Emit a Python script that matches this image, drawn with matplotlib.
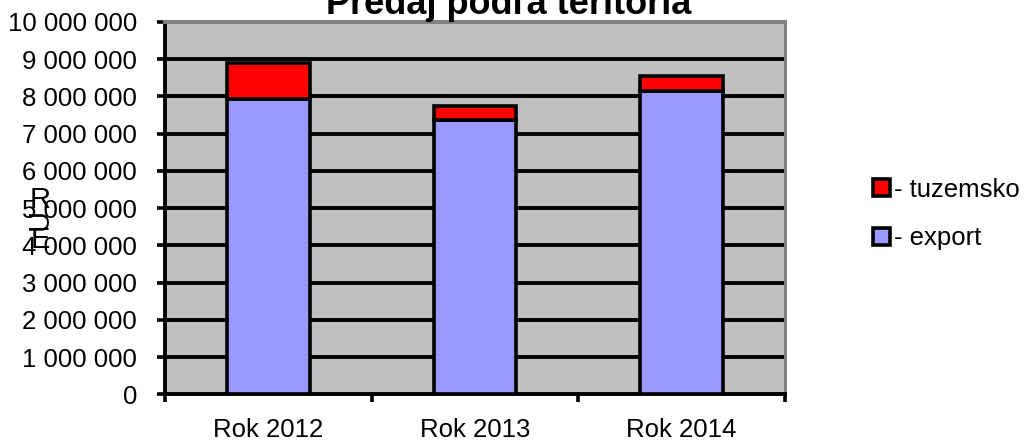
import numpy as np
import matplotlib
matplotlib.use("Agg")
import matplotlib.pyplot as plt
from matplotlib.ticker import FuncFormatter, FixedLocator

plt.rcParams['font.family'] = ['Liberation Sans', 'DejaVu Sans']

#### data
years = ['Rok 2012', 'Rok 2013', 'Rok 2014']
export = [7930000, 7380000, 8150000]        # blue part
tuzemsko = [980000, 370000, 410000]         # red part on top
y_ticks = np.arange(0, 10000001, 1000000)

fig = plt.figure(figsize=(10.29, 4.44), dpi=100)
ax = fig.add_axes([0.1603, 0.1115, 0.6025, 0.839])
ax.set_facecolor('#C0C0C0')

x = np.arange(len(years))
b_exp = ax.bar(x, export, width=0.40, color='#9999FF', edgecolor='black', linewidth=2.6, zorder=3, label='- export')
b_tuz = ax.bar(x, tuzemsko, bottom=export, width=0.40, color='#FF0000', edgecolor='black', linewidth=2.6, zorder=3, label='- tuzemsko')

#### y axis
ax.set_ylim(0, 10000000)
ax.set_yticks(y_ticks)
ax.yaxis.set_major_formatter(FuncFormatter(lambda v, p: f"{v:,.0f}".replace(",", " ")))
ax.tick_params(axis='y', direction='out', length=6, width=2.6, pad=14, labelsize=18.5)
for v in y_ticks[1:-1]:
    ax.axhline(v, color='black', linewidth=2.8, zorder=1)

#### x axis: ticks on category borders, labels in the middle
ax.set_xlim(-0.5, len(years) - 0.5)
ax.xaxis.set_major_locator(FixedLocator(np.arange(-0.5, len(years), 1.0)))
ax.xaxis.set_major_formatter(FuncFormatter(lambda v, p: ''))
ax.xaxis.set_minor_locator(FixedLocator(x))
ax.set_xticklabels(years, minor=True)
ax.tick_params(axis='x', which='major', direction='out', length=6, width=2.6)
ax.tick_params(axis='x', which='minor', length=0, pad=17, labelsize=18.5)

ax.spines['left'].set_linewidth(2.8)
ax.spines['bottom'].set_linewidth(2.8)
ax.spines['top'].set_color('#808080')
ax.spines['right'].set_color('#808080')
ax.spines['top'].set_linewidth(2.8)
ax.spines['right'].set_linewidth(2.2)

#### title (cut at the top as in the original)
fig.text(509 / 1029, 1 - 14 / 444, 'Predaj podľa teritória', ha='center', va='baseline',
         fontsize=26, fontweight='bold')

#### the oddly stacked axis title
fig.text(40 / 1029, 1 - 200 / 444, 'R', ha='center', va='center', fontsize=21)
fig.text(40 / 1029, 1 - 219 / 444, 'U', ha='center', va='center', fontsize=21, rotation=90)
fig.text(40 / 1029, 1 - 240 / 444, 'E', ha='center', va='center', fontsize=21)

#### legend
fig.legend([b_tuz, b_exp], ['- tuzemsko', '- export'], loc='center left',
           bbox_to_anchor=(873 / 1029, 1 - 214 / 444), frameon=False, fontsize=18.5,
           handlelength=0.65, handleheight=0.65, handletextpad=0.15, labelspacing=0.95,
           borderpad=0, borderaxespad=0)

plt.savefig('out.png', dpi=100)
